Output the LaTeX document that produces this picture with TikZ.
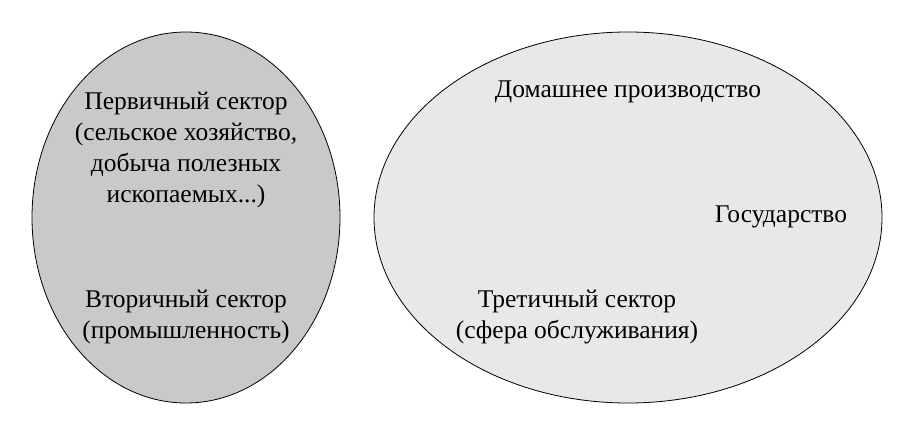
\documentclass[tikz,border=0pt]{standalone}
\usepackage{fontspec}
\setmainfont{Liberation Serif}
\begin{document}
\begin{tikzpicture}[x=1pt,y=-1pt,
	sector/.style={align=center,font=\fontsize{25.5}{31}\selectfont,inner sep=0pt},
	oldecon/.style={draw=black,thick,fill=black!21},
	newecon/.style={draw=black,thick,fill=black!9}]
	\useasboundingbox (0,0) rectangle (909,428);
	\filldraw[oldecon] (186,217.5) ellipse [x radius=154, y radius=185.5];
	\filldraw[newecon] (628,217.5) ellipse [x radius=254, y radius=185.5];
	\node[sector] (primary) at (186,150) {Первичный сектор\\(сельское хозяйство,\\добыча полезных\\ископаемых...)};
	\node[sector] (secondary) at (186,317) {Вторичный сектор\\(промышленность)};
	\node[sector] (household) at (628,92) {Домашнее производство};
	\node[sector] (state) at (781,217) {Государство};
	\node[sector] (tertiary) at (577,317) {Третичный сектор\\(сфера обслуживания)};
\end{tikzpicture}
\end{document}
